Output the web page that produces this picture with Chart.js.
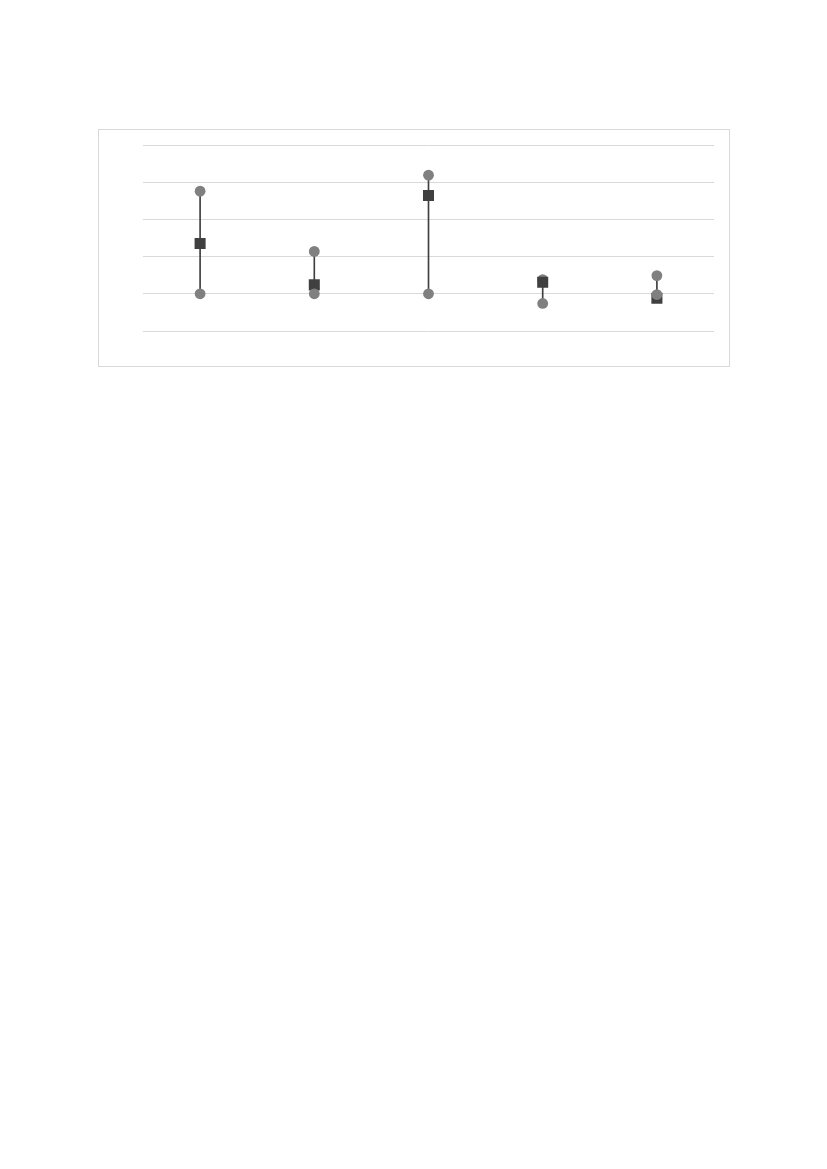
<!DOCTYPE html>
<html>
<head>
<meta charset="utf-8">
<script src="https://cdn.jsdelivr.net/npm/chart.js@4"></script>
<style>
  body { margin: 0; background: #fff; }
  #box {
    position: absolute; left: 98px; top: 129px;
    width: 630px; height: 236px;
    border: 1px solid #d9d9d9;
  }
</style>
</head>
<body>
<div id="box"><canvas id="chart"></canvas></div>
<script>
const categories = ['1', '2', '3', '4', '5'];
const highValues = [2.76, 1.14, 3.19, 0.38, 0.49];
const meanValues = [1.35, 0.24, 2.64, 0.31, -0.12];
const lowValues = [0, 0, 0, -0.26, -0.02];
const yTicks = [-1, 0, 1, 2, 3, 4];

const ranges = categories.map((c, i) => [lowValues[i], highValues[i]]);

new Chart(document.getElementById('chart'), {
    data: {
        labels: categories,
        datasets: [
            {type: 'line', data: lowValues, showLine: false, order: 1,
             pointStyle: 'circle', pointRadius: 5.4, pointBorderWidth: 0,
             pointBackgroundColor: '#808080'},
            {type: 'line', data: meanValues, showLine: false, order: 2,
             pointStyle: 'rect', pointRadius: 7.8, pointBorderWidth: 0,
             pointBackgroundColor: '#404040'},
            {type: 'line', data: highValues, showLine: false, order: 3,
             pointStyle: 'circle', pointRadius: 5.4, pointBorderWidth: 0,
             pointBackgroundColor: '#808080'},
            {type: 'bar', data: ranges, order: 4, barThickness: 1,
             backgroundColor: '#404040'}
        ]
    },
    options: {
        responsive: true,
        maintainAspectRatio: false,
        animation: false,
        layout: {padding: {left: 44, right: 15, top: 15, bottom: 35}},
        plugins: {legend: {display: false}, tooltip: {enabled: false}},
        scales: {
            x: {
                offset: true,
                grid: {display: false, drawTicks: false},
                border: {display: false},
                ticks: {display: false}
            },
            y: {
                min: yTicks[0],
                max: yTicks[yTicks.length - 1],
                afterBuildTicks: axis => { axis.ticks = yTicks.map(v => ({value: v})); },
                grid: {color: '#d9d9d9', lineWidth: 1, drawTicks: false},
                border: {display: false},
                ticks: {display: false}
            }
        }
    }
});
</script>
</body>
</html>
